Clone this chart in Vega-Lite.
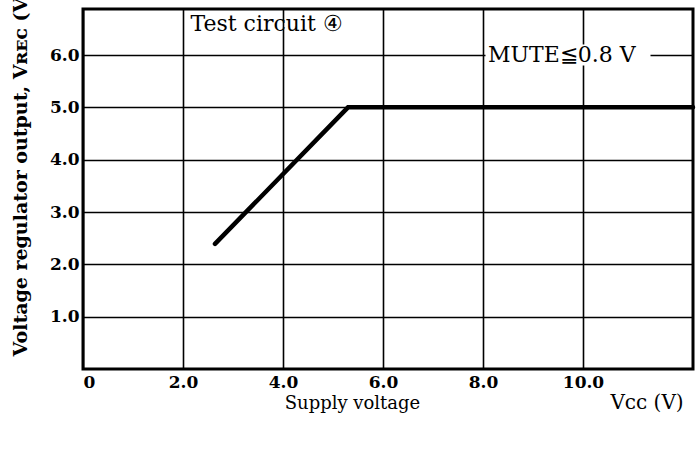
{
  "$schema": "https://vega.github.io/schema/vega-lite/v6.json",
  "width": 610,
  "height": 360,
  "autosize": "none",
  "padding": {"left": 83, "top": 9, "right": 7, "bottom": 80},
  "background": "white",
  "config": {
    "view": {"stroke": "black", "strokeWidth": 3},
    "font": "DejaVu Serif"
  },
  "datasets": {
    "curve": [
      {"vcc": 2.64, "vrec": 2.39},
      {"vcc": 5.3, "vrec": 5.0},
      {"vcc": 12.2, "vrec": 5.0}
    ],
    "notes": [
      {"label": "Test circuit ④", "x": 2.15, "y": 6.6},
      {"label": "MUTE≦0.8 V", "x": 8.1, "y": 6.0}
    ],
    "unit": [
      {"label": "Vᴄᴄ (V)", "x": 11.28, "y": -0.65}
    ],
    "mask": [
      {"x1": 8.05, "x2": 11.35, "y1": 5.8, "y2": 6.2}
    ]
  },
  "layer": [
    {
      "data": {"name": "curve"},
      "mark": {"type": "line", "color": "black", "strokeWidth": 4.5, "strokeCap": "round"},
      "encoding": {
        "x": {
          "field": "vcc",
          "type": "quantitative",
          "scale": {"domain": [0, 12.2], "nice": false, "zero": false},
          "axis": {
            "values": [0, 2, 4, 6, 8, 10],
            "labelExpr": "datum.value == 0 ? '0' : format(datum.value, '.1f')",
            "grid": true,
            "gridColor": "black",
            "gridWidth": 1.6,
            "gridOpacity": 1,
            "domain": false,
            "ticks": false,
            "labelFont": "DejaVu Serif",
            "labelFontWeight": "bold",
            "labelFontSize": 17,
            "labelColor": "black",
            "labelPadding": 5,
            "title": "Supply voltage",
            "titleFont": "DejaVu Serif",
            "titleFontWeight": "normal",
            "titleFontSize": 18,
            "titleColor": "black",
            "titleX": 269,
            "titleY": 34,
            "titleAlign": "center",
            "titleBaseline": "middle"
          }
        },
        "y": {
          "field": "vrec",
          "type": "quantitative",
          "scale": {"domain": [0, 6.88], "nice": false, "zero": false},
          "axis": {
            "values": [1, 2, 3, 4, 5, 6],
            "format": ".1f",
            "grid": true,
            "gridColor": "black",
            "gridWidth": 1.6,
            "gridOpacity": 1,
            "domain": false,
            "ticks": false,
            "labelFont": "DejaVu Serif",
            "labelFontWeight": "bold",
            "labelFontSize": 17,
            "labelColor": "black",
            "labelPadding": 4,
            "title": "Voltage regulator output, Vʀᴇᴄ (V)",
            "titleFont": "DejaVu Serif",
            "titleFontWeight": "bold",
            "titleFontSize": 19,
            "titleColor": "black",
            "titleAngle": 270,
            "titleAlign": "left",
            "titleBaseline": "middle",
            "titleX": -63,
            "titleY": 347
          }
        }
      }
    },
    {
      "data": {"name": "mask"},
      "mark": {"type": "rect", "fill": "white"},
      "encoding": {
        "x": {"field": "x1", "type": "quantitative"},
        "x2": {"field": "x2"},
        "y": {"field": "y1", "type": "quantitative"},
        "y2": {"field": "y2"}
      }
    },
    {
      "data": {"name": "notes"},
      "mark": {"type": "text", "font": "DejaVu Serif", "fontSize": 22, "color": "black", "align": "left", "baseline": "middle"},
      "encoding": {
        "x": {"field": "x", "type": "quantitative"},
        "y": {"field": "y", "type": "quantitative"},
        "text": {"field": "label"}
      }
    },
    {
      "data": {"name": "unit"},
      "mark": {"type": "text", "font": "DejaVu Serif", "fontSize": 20, "color": "black", "align": "center", "baseline": "middle"},
      "encoding": {
        "x": {"field": "x", "type": "quantitative"},
        "y": {"field": "y", "type": "quantitative"},
        "text": {"field": "label"}
      }
    }
  ]
}
